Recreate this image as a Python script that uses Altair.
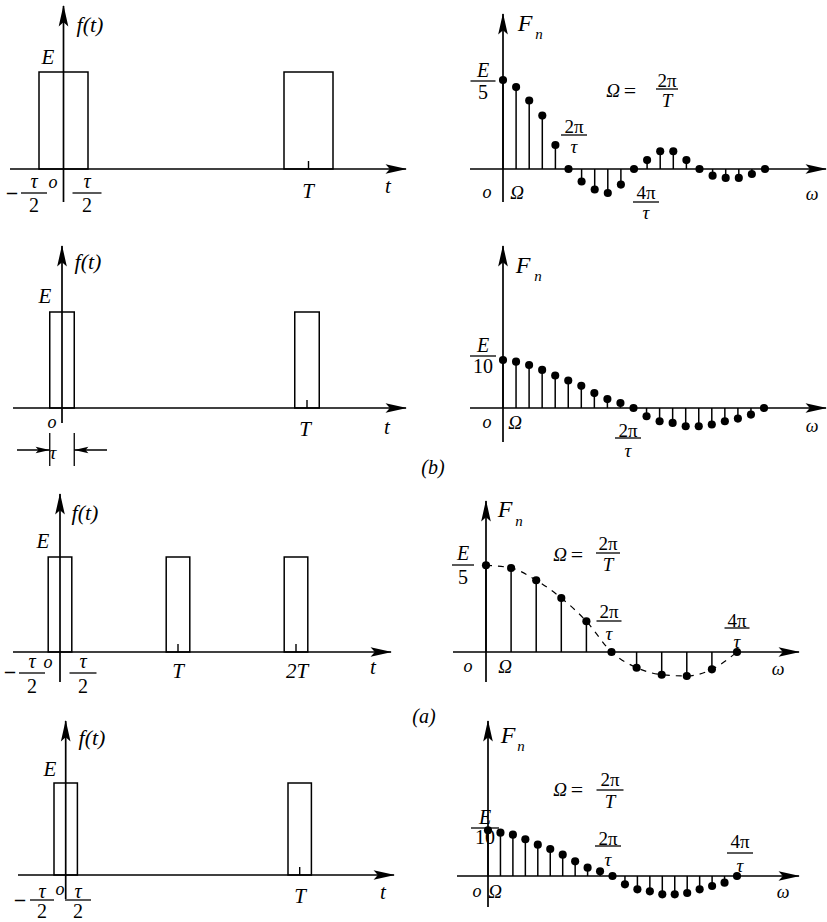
import altair as alt
import pandas as pd

SERIF = "Liberation Serif"

# ---------------- values ----------------
E_AMP = 1.0          # pulse height E
TAU = 1.0            # pulse width tau
T_SHORT = 5.0        # period with tau/T = 1/5
T_LONG = 10.0        # period with tau/T = 1/10

PULSES_1 = [0, 1]          # multiples of T
PULSES_2 = [0, 1]
PULSES_3 = [0, 1, 2]
PULSES_4 = [0, 1]

# normalised line spectra F_n / (E tau / T), n = 0, 1, 2, ...
FN_1 = [1.00, 0.92, 0.77, 0.60, 0.27, 0.00, -0.14, -0.23, -0.27, -0.175, 0.00,
        0.10, 0.20, 0.20, 0.10, 0.00, -0.075, -0.10, -0.10, -0.056, 0.00]
FN_2 = [1.00, 0.966, 0.897, 0.793, 0.676, 0.572, 0.462, 0.310, 0.186, 0.103, 0.00,
        -0.172, -0.276, -0.310, -0.379, -0.379, -0.345, -0.276, -0.221, -0.138, 0.00]
FN_3 = [1.00, 0.969, 0.827, 0.623, 0.354, 0.00, -0.181, -0.262, -0.277, -0.20, 0.00]
FN_4 = [1.00, 0.949, 0.905, 0.803, 0.686, 0.591, 0.467, 0.321, 0.182, 0.102, 0.00,
        -0.182, -0.292, -0.336, -0.401, -0.401, -0.372, -0.292, -0.219, -0.146, 0.00]

ARROW = "M0,0L-2,-0.45L-1.6,0L-2,0.45Z"


class Panel:
    """One drawing cell with its own linear x/y scales (no axes drawn by Vega)."""

    def __init__(self, w, h, x0, kx, y0, ky):
        self.w, self.h = w, h
        self.x0, self.kx, self.y0, self.ky = x0, kx, y0, ky
        self.xs = alt.Scale(domain=[-x0 / kx, (w - x0) / kx], nice=False, zero=False)
        self.ys = alt.Scale(domain=[-(h - y0) / ky, y0 / ky], nice=False, zero=False)
        self.layers = []

    def ux(self, px):
        return (px - self.x0) / self.kx

    def uy(self, py):
        return (self.y0 - py) / self.ky

    def X(self, f):
        return alt.X(f"{f}:Q", scale=self.xs, axis=None)

    def Y(self, f):
        return alt.Y(f"{f}:Q", scale=self.ys, axis=None)

    def seg(self, xa, ya, xb, yb, width=1.5, dash=None):
        df = pd.DataFrame({"x": [xa], "y": [ya], "x2": [xb], "y2": [yb]})
        kw = dict(color="black", strokeWidth=width)
        if dash:
            kw["strokeDash"] = dash
        self.layers.append(
            alt.Chart(df).mark_rule(**kw).encode(
                x=self.X("x"), y=self.Y("y"), x2="x2:Q", y2="y2:Q"))

    def arrow(self, x, y, angle, size=460):
        df = pd.DataFrame({"x": [x], "y": [y]})
        self.layers.append(
            alt.Chart(df).mark_point(shape=ARROW, filled=True, color="black",
                                     opacity=1, size=size, angle=angle,
                                     strokeWidth=0).encode(x=self.X("x"), y=self.Y("y")))

    def axes(self, hx, vy):
        """hx: pixel extent of the horizontal axis, vy: (bottom, top) of the vertical one."""
        self.seg(self.ux(hx[0]), 0, self.ux(hx[1]) - 1.0 / self.kx, 0, 1.7)
        self.arrow(self.ux(hx[1]), 0, 0)
        self.seg(0, self.uy(vy[0]), 0, self.uy(vy[1]) - 1.0 / self.ky, 1.7)
        self.arrow(0, self.uy(vy[1]), 270)

    def text(self, px, py, s, size=18, italic=True, weight="normal"):
        df = pd.DataFrame({"x": [self.ux(px)], "y": [self.uy(py)], "t": [s]})
        self.layers.append(
            alt.Chart(df).mark_text(font=SERIF, fontSize=size,
                                    fontStyle="italic" if italic else "normal",
                                    fontWeight=weight, align="center",
                                    baseline="middle", color="black").encode(
                x=self.X("x"), y=self.Y("y"), text="t:N"))

    def frac(self, xc, num, den, yn, yb, yd, w, size=17, num_it=False, den_it=True):
        self.text(xc, yn, num, size, num_it)
        self.seg(self.ux(xc - w / 2), self.uy(yb), self.ux(xc + w / 2), self.uy(yb), 1.3)
        self.text(xc, yd, den, size, den_it)

    def pulses(self, ks, period, tau, amp, tick_px=8):
        df = pd.DataFrame({"a": [k * period - tau / 2 for k in ks],
                           "b": [k * period + tau / 2 for k in ks],
                           "lo": [0.0] * len(ks), "hi": [amp] * len(ks)})
        self.layers.append(
            alt.Chart(df).mark_rect(fillOpacity=0, stroke="black", strokeWidth=1.5).encode(
                x=self.X("a"), x2="b:Q", y=self.Y("lo"), y2="hi:Q"))
        tk = [k * period for k in ks if k > 0]
        dt = pd.DataFrame({"t": tk, "lo": [0.0] * len(tk), "hi": [tick_px / self.ky] * len(tk)})
        self.layers.append(
            alt.Chart(dt).mark_rule(color="black", strokeWidth=1.4).encode(
                x=self.X("t"), y=self.Y("lo"), y2="hi:Q"))

    def stems(self, vals, dot=66):
        df = pd.DataFrame({"n": list(range(len(vals))), "v": vals, "z": [0.0] * len(vals)})
        base = alt.Chart(df)
        self.layers.append(base.mark_rule(color="black", strokeWidth=1.5).encode(
            x=self.X("n"), y=self.Y("z"), y2="v:Q"))
        self.layers.append(base.mark_circle(color="black", opacity=1, size=dot).encode(
            x=self.X("n"), y=self.Y("v")))

    def envelope(self, vals):
        df = pd.DataFrame({"n": list(range(len(vals))), "v": vals})
        self.layers.append(alt.Chart(df).mark_line(
            color="black", strokeWidth=1.2, strokeDash=[6, 6], interpolate="monotone").encode(
            x=self.X("n"), y=self.Y("v")))

    def chart(self):
        return alt.layer(*self.layers).properties(width=self.w, height=self.h)


# ---------------- row 1: tau/T = 1/5 ----------------
p1 = Panel(420, 230, 63.5, 49.0, 169, 97)
p1.pulses(PULSES_1, T_SHORT, TAU, E_AMP)
p1.axes((10, 407), (202, 5))
p1.text(90, 25, "f(t)", 22)
p1.text(48, 58, "E", 21)
p1.text(12, 193, "–", 20, False, "bold")
p1.frac(34, "τ", "2", 182, 193, 206, 26, 20, True, False)
p1.text(53, 183, "o", 18)
p1.frac(87, "τ", "2", 182, 193, 206, 29, 20, True, False)
p1.text(308, 192, "T", 21)
p1.text(388, 187, "t", 21)

q1 = Panel(407, 230, 83, 13.1, 169, 89)
q1.stems(FN_1)
q1.axes((50, 407), (202, 13))
q1.text(105, 24, "F", 24)
q1.text(119, 34, "n", 15)
q1.frac(63, "E", "5", 71, 81, 93, 25, 20, True, False)
q1.text(193, 91, "Ω", 19)
q1.text(210, 91, "=", 22, False)
q1.frac(247, "2π", "T", 81, 89, 101, 22, 19, False, True)
q1.frac(154, "2π", "τ", 127, 135, 147, 26, 19)
q1.frac(226, "4π", "τ", 193, 202, 213, 26, 19)
q1.text(67, 193, "o", 18)
q1.text(97, 193, "Ω", 19)
q1.text(392, 195, "ω", 18)

# ---------------- row 2: tau/T = 1/10 ----------------
p2 = Panel(420, 240, 62, 24.5, 178, 96)
p2.pulses(PULSES_2, T_LONG, TAU, E_AMP)
p2.axes((13, 407), (193, 15))
p2.text(88, 32, "f(t)", 22)
p2.text(45, 67, "E", 21)
p2.text(52, 193, "o", 18)
p2.text(305, 200, "T", 21)
p2.text(387, 198, "t", 21)
# width marker for tau
for edge in (-TAU / 2, TAU / 2):
    p2.seg(edge, p2.uy(203), edge, p2.uy(236), 1.3)
p2.seg(p2.ux(17), p2.uy(220), -TAU / 2, p2.uy(220), 1.5)
p2.arrow(-TAU / 2, p2.uy(220), 0, 200)
p2.seg(p2.ux(107), p2.uy(220), TAU / 2, p2.uy(220), 1.5)
p2.arrow(TAU / 2, p2.uy(220), 180, 200)
p2.text(53, 223, "τ", 19)

q2 = Panel(407, 240, 83, 13.05, 178, 48)
q2.stems(FN_2)
q2.axes((50, 407), (212, 15))
q2.text(103, 36, "F", 24)
q2.text(118, 46, "n", 15)
q2.frac(63, "E", "10", 116, 126, 137, 26, 20, True, False)
q2.text(67, 193, "o", 18)
q2.text(95, 193, "Ω", 19)
q2.frac(208, "2π", "τ", 201, 208, 221, 26, 19)
q2.text(392, 197, "ω", 18)
q2.text(13, 238, "(b)", 20)

# ---------------- row 3: tau/T = 1/5, three periods ----------------
p3 = Panel(420, 230, 60, 23.6, 182, 95)
p3.pulses(PULSES_3, T_SHORT, TAU, E_AMP)
p3.axes((13, 392), (212, 23))
p3.text(85, 43, "f(t)", 22)
p3.text(43, 72, "E", 21)
p3.text(10, 202, "–", 20, False, "bold")
p3.frac(32, "τ", "2", 192, 203, 217, 26, 20, True, False)
p3.text(48, 193, "o", 18)
p3.frac(83, "τ", "2", 192, 203, 217, 27, 20, True, False)
p3.text(178, 202, "T", 21)
p3.text(297, 202, "2T", 21)
p3.text(373, 198, "t", 21)

q3 = Panel(407, 230, 66, 25.1, 182, 86.7)
q3.envelope(FN_3)
q3.stems(FN_3)
q3.axes((33, 380), (212, 30))
q3.text(85, 40, "F", 24)
q3.text(99, 51, "n", 15)
q3.frac(43, "E", "5", 84, 95, 108, 22, 20, True, False)
q3.text(140, 85, "Ω", 19)
q3.text(157, 85, "=", 22, False)
q3.frac(188, "2π", "T", 74, 83, 95, 24, 19, False, True)
q3.frac(189, "2π", "τ", 142, 151, 164, 25, 19)
q3.frac(317, "4π", "τ", 151, 158, 172, 25, 19)
q3.text(48, 197, "o", 18)
q3.text(85, 197, "Ω", 19)
q3.text(358, 200, "ω", 18)

# ---------------- row 4: tau/T = 1/10 ----------------
p4 = Panel(420, 222, 65.7, 23.4, 175, 92)
p4.pulses(PULSES_4, T_LONG, TAU, E_AMP)
p4.axes((18, 395), (199, 20))
p4.text(92, 38, "f(t)", 22)
p4.text(50, 70, "E", 21)
p4.text(20, 200, "–", 20, False, "bold")
p4.frac(42, "τ", "2", 192, 200, 212, 24, 20, True, False)
p4.text(60, 190, "o", 18)
p4.frac(78, "τ", "2", 192, 200, 212, 26, 20, True, False)
p4.text(300, 197, "T", 21)
p4.text(383, 193, "t", 21)

q4 = Panel(407, 222, 68, 12.45, 176, 45.7)
q4.stems(FN_4)
q4.axes((37, 380), (207, 20))
q4.text(88, 36, "F", 24)
q4.text(101, 46, "n", 15)
q4.frac(65, "E", "10", 118, 128, 138, 28, 20, True, False)
q4.text(140, 90, "Ω", 19)
q4.text(157, 90, "=", 22, False)
q4.frac(190, "2π", "T", 80, 90, 102, 27, 19, False, True)
q4.frac(188, "2π", "τ", 139, 146, 160, 26, 19)
q4.frac(320, "4π", "τ", 142, 153, 166, 26, 19)
q4.text(57, 192, "o", 18)
q4.text(75, 192, "Ω", 19)
q4.text(363, 193, "ω", 18)
q4.text(4, 17, "(a)", 20)

panels = [p.chart() for p in (p1, q1, p2, q2, p3, q3, p4, q4)]

chart = alt.concat(*panels, columns=2, spacing=0, bounds="flush", align="each").properties(
    padding=0, background="white"
).configure_view(strokeWidth=0)

chart.save("out.html", embed_options={"renderer": "svg", "actions": False})
